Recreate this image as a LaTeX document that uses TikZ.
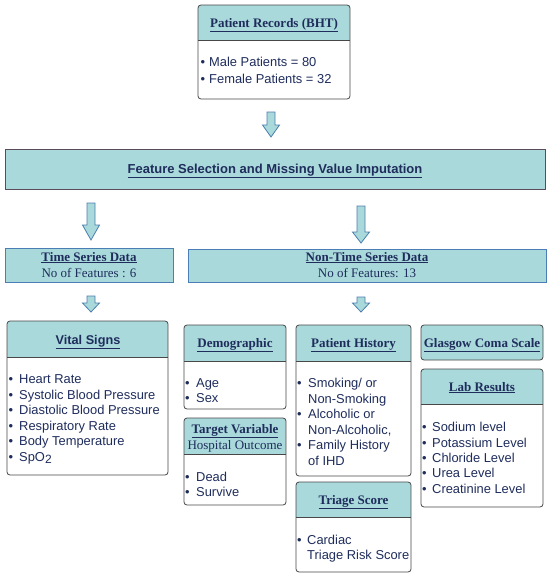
\documentclass[tikz,border=0pt]{standalone}
\usepackage{fontspec}
\setmainfont{Liberation Serif}
\setsansfont{Liberation Sans}
\usetikzlibrary{fit}
\definecolor{hdr}{HTML}{A9D9DB}
\definecolor{txt}{HTML}{1F2D5C}
\definecolor{cardedge}{HTML}{474747}
\definecolor{tsedge}{HTML}{4A7EB5}
\definecolor{fsedge}{HTML}{5B4B5B}
\definecolor{arrowedge}{HTML}{4A7FAE}
\tikzset{
  cardframe/.style={draw=cardedge, line width=0.8pt, rounded corners=3pt, inner sep=0pt},
  cardline/.style={draw=cardedge, line width=0.8pt},
  ttl/.style={font=\fontsize{13}{15}\selectfont\bfseries, text=txt, inner sep=0pt, anchor=base},
  sttl/.style={font=\fontsize{13}{15}\selectfont\sffamily\bfseries, text=txt, inner sep=0pt, anchor=base},
  sub/.style={font=\fontsize{13}{15}\selectfont, text=txt, inner sep=0pt, anchor=base},
  bt/.style={font=\fontsize{12.9}{15}\selectfont\sffamily, text=txt, inner sep=0pt, anchor=base west},
  barrow/.style={draw=arrowedge, fill=hdr, line width=0.8pt, line join=miter},
}
\newcommand{\cardbox}[6]{%
  \begin{scope}
    \clip[rounded corners=3pt] (#2,#3) rectangle (#4,#5);
    \fill[white] (#2,#3) rectangle (#4,#5);
    \fill[hdr] (#2,#3) rectangle (#4,#6);
  \end{scope}
  \draw[cardline] (#2,#6) -- (#4,#6);
  \node[cardframe, fit={(#2,#3) (#4,#5)}] (#1) {};
}
\newcommand{\bul}[5]{%
  \node[bt] (#1b) at (#2,#4) {•};
  \node[bt] (#1) at (#3,#4) {#5};
}
\newcommand{\cont}[4]{\node[bt] (#1) at (#2,#3) {#4};}
\newcommand{\blockarrow}[4]{%
  \draw[barrow] ({#1-4},#2) -- ({#1+4},#2) -- ({#1+4},#3) -- ({#1+8.5},#3)
    -- (#1,#4) -- ({#1-8.5},#3) -- ({#1-4},#3) -- cycle;
}
\begin{document}
\begin{tikzpicture}[x=1pt,y=-1pt]
\useasboundingbox[fill=white] (0,0) rectangle (550,578);

% Patient records
\cardbox{pr}{198}{5}{350}{99}{40}
\node[ttl] (prt) at (274,27.5) {\underline{Patient Records (BHT)}};
\bul{pr1}{200.5}{209}{66.5}{Male Patients = 80}
\bul{pr2}{200.5}{209}{83.5}{Female Patients = 32}

% Arrow 1
\blockarrow{271}{112}{125}{137}

% Feature selection
\node[draw=fsedge, fill=hdr, line width=0.8pt, inner sep=0pt, fit={(5,149) (545,189)}] (fs) {};
\node[sttl] (fst) at (275,173.5) {\underline{Feature Selection and Missing Value Imputation}};

% Arrows 2,3
\blockarrow{91}{203}{225}{240}
\blockarrow{361}{206}{232}{243}

% Time series
\node[draw=tsedge, fill=hdr, line width=0.8pt, inner sep=0pt, fit={(5,248) (173,282)}] (ts) {};
\node[ttl] (tst) at (89,261) {\underline{Time Series Data}};
\node[sub] (tss) at (89,277) {No of Features : 6};

\node[draw=tsedge, fill=hdr, line width=0.8pt, inner sep=0pt, fit={(188,249) (546,282)}] (nts) {};
\node[ttl] (ntst) at (367,261) {\underline{Non-Time Series Data}};
\node[sub] (ntss) at (367,277) {No of Features: 13};

% Small arrows
\blockarrow{91}{296}{303}{312}
\blockarrow{361}{297}{303}{312}

% Vital signs
\cardbox{vs}{7}{321}{168}{475}{357}
\node[sttl,font=\fontsize{12.7}{15}\selectfont\sffamily\bfseries] (vst) at (88,344) {\underline{Vital Signs}};
\bul{vs1}{8.5}{19}{383.5}{Heart Rate}
\bul{vs2}{8.5}{19}{399}{Systolic Blood Pressure}
\bul{vs3}{8.5}{19}{414.5}{Diastolic Blood Pressure}
\bul{vs4}{8.5}{19}{430}{Respiratory Rate}
\bul{vs5}{8.5}{19}{445.5}{Body Temperature}
\bul{vs6}{8.5}{19}{461}{SpO\raisebox{-2.5pt}{\fontsize{12}{12}\selectfont 2}}

% Demographic
\cardbox{dem}{184}{325}{286}{409}{361}
\node[ttl] (demt) at (235,347) {\underline{Demographic}};
\bul{dem1}{185}{196}{387.5}{Age}
\bul{dem2}{185}{196}{402.5}{Sex}

% Target variable
\cardbox{tv}{184}{418}{286}{505}{454}
\node[ttl] (tvt) at (235,433) {\underline{Target Variable}};
\node[sub] (tvs) at (235,449) {Hospital Outcome};
\bul{tv1}{185}{196}{481.5}{Dead}
\bul{tv2}{185}{196}{496.5}{Survive}

% Patient history
\cardbox{ph}{296}{325}{411}{476}{361}
\node[ttl] (pht) at (353.5,347) {\underline{Patient History}};
\bul{ph1}{297}{308}{387}{Smoking/ or}
\cont{ph1c}{308}{403}{Non-Smoking}
\bul{ph2}{297}{308}{418.5}{Alcoholic or}
\cont{ph2c}{308}{434}{Non-Alcoholic,}
\bul{ph3}{297}{308}{449.5}{Family History}
\cont{ph3c}{308}{465}{of IHD}

% Triage score
\cardbox{tri}{296}{482}{411}{572}{517}
\node[ttl] (trit) at (353.5,504) {\underline{Triage Score}};
\bul{tri1}{297}{307}{544.5}{Cardiac}
\cont{tri1c}{307}{559.5}{Triage Risk Score}

% Glasgow coma scale
\node[cardframe, fill=hdr, fit={(421,325) (543,360)}] (gcs) {};
\node[ttl] (gcst) at (482,347) {\underline{Glasgow Coma Scale}};

% Lab results
\cardbox{lab}{421}{369}{543}{507}{404}
\node[ttl] (labt) at (482,391) {\underline{Lab Results}};
\bul{lab1}{422}{432}{431.5}{Sodium level}
\bul{lab2}{422}{432}{447}{Potassium Level}
\bul{lab3}{422}{432}{462}{Chloride Level}
\bul{lab4}{422}{432}{477.5}{Urea Level}
\bul{lab5}{422}{432}{493}{Creatinine Level}
\end{tikzpicture}
\end{document}
